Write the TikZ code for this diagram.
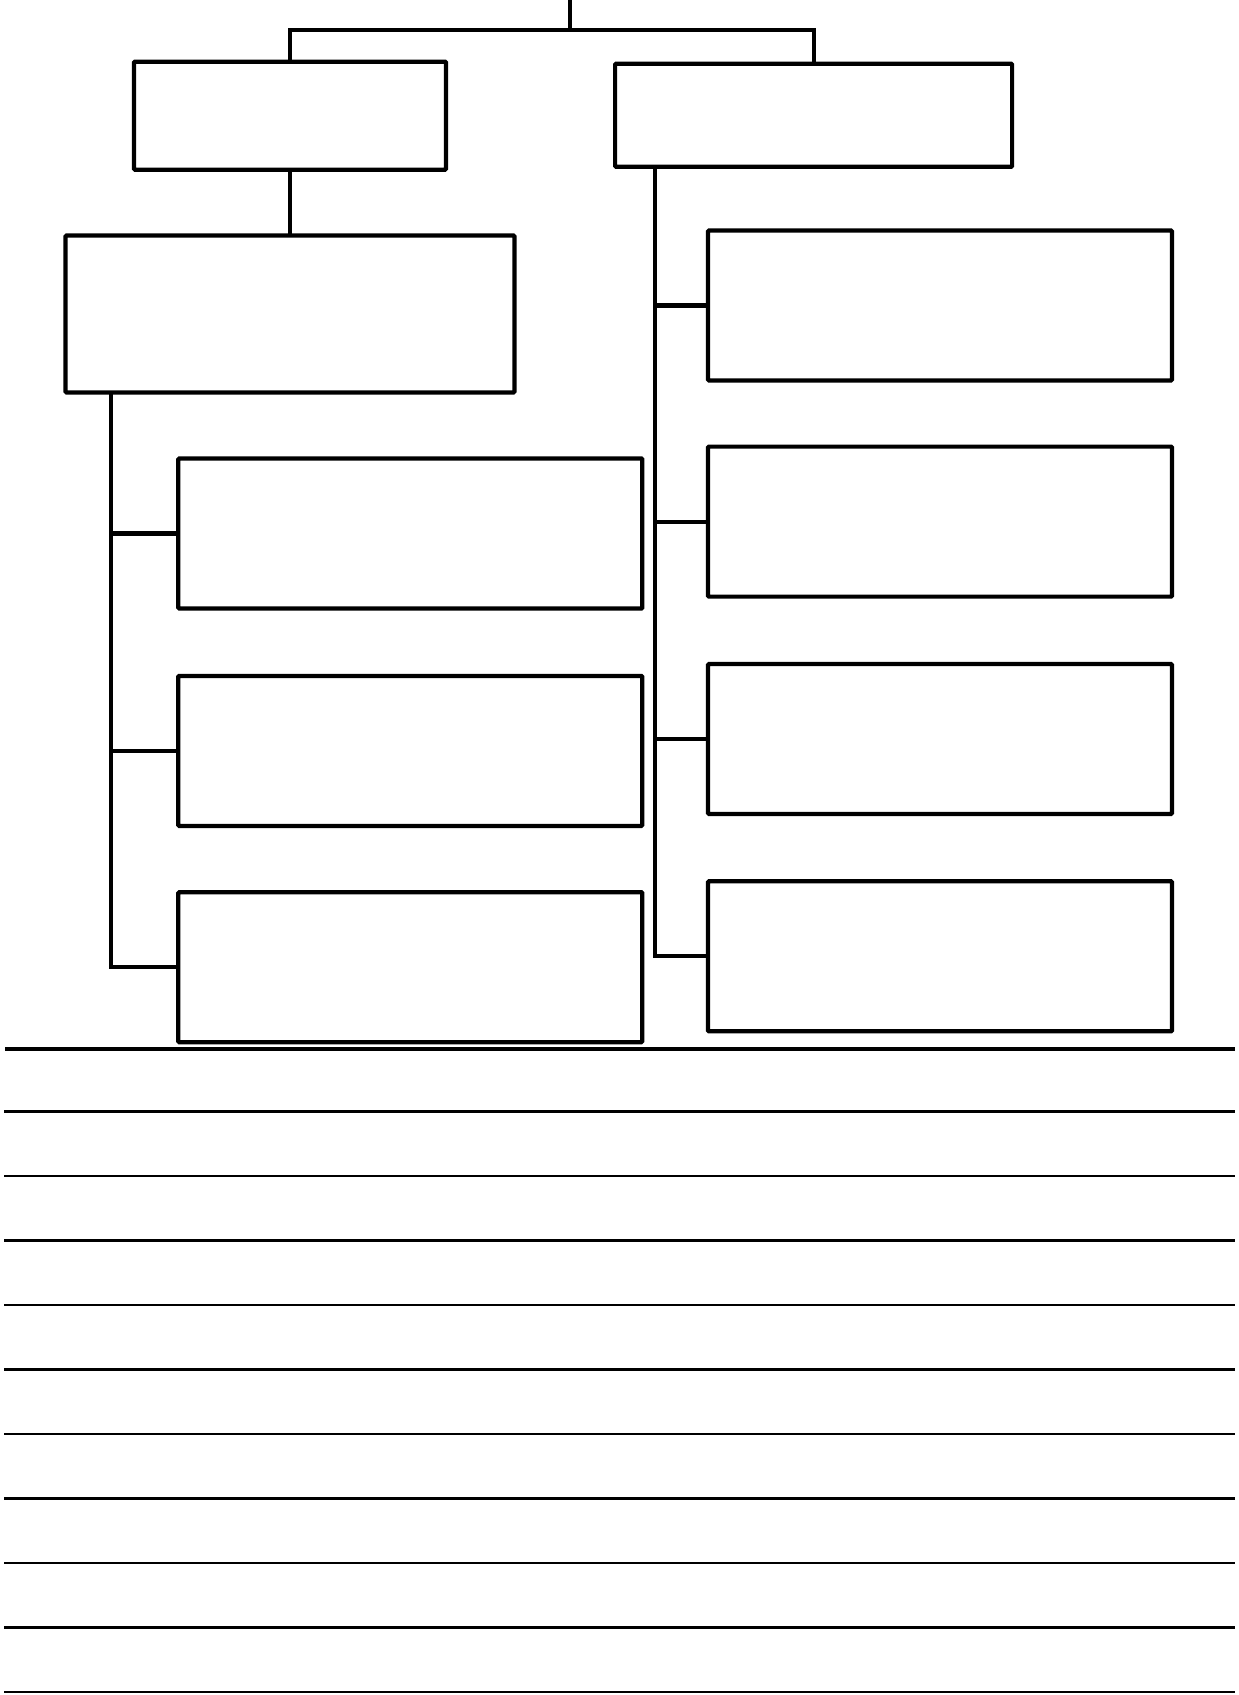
\documentclass[tikz,border=0pt]{standalone}
\tikzset{
    box/.style={draw, line width=4.2pt, inner sep=0pt, outer sep=0pt, rounded corners=1pt},
    link/.style={line width=4.2pt},
    rule/.style={line width=2.4pt}
}
\begin{document}
\begin{tikzpicture}[x=1pt, y=-1pt]
    \useasboundingbox (0,0) rectangle (1239,1695);

    % Верхний уровень
    \node[box, minimum width=312pt, minimum height=108pt] (a1) at (290,115.7) {};
    \node[box, minimum width=397pt, minimum height=103pt] (b1) at (813.6,115.2) {};
    % Второй уровень слева
    \node[box, minimum width=449pt, minimum height=157pt] (a2) at (290,314) {};

    % Левые блоки
    \node[box, minimum width=464pt, minimum height=150pt] (l1) at (410.3,533.5) {};
    \node[box, minimum width=464pt, minimum height=150pt] (l2) at (410.3,750.9) {};
    \node[box, minimum width=464pt, minimum height=150pt] (l3) at (410.3,967.2) {};
    % Правые блоки
    \node[box, minimum width=464pt, minimum height=150pt] (r1) at (940,305.5) {};
    \node[box, minimum width=464pt, minimum height=150pt] (r2) at (940,521.6) {};
    \node[box, minimum width=464pt, minimum height=150pt] (r3) at (940,739) {};
    \node[box, minimum width=464pt, minimum height=150pt] (r4) at (940,956.3) {};

    % Корень и развилка
    \coordinate (root) at (570,0);
    \coordinate (fork) at (570,30);
    \draw[link] (root) -- (fork);
    \draw[link] (fork) -| (a1.north);
    \draw[link] (fork) -| (b1.north);
    \draw[link] (a1) -- (a2);

    % Левая шина
    \coordinate (lsp) at ([xshift=45.4pt]a2.south west);
    \draw[link] (lsp) |- (l3.west);
    \draw[link] (lsp |- l1.west) -- (l1.west);
    \draw[link] (lsp |- l2.west) -- (l2.west);

    % Правая шина
    \coordinate (rsp) at ([xshift=40pt]b1.south west);
    \draw[link] (rsp) |- (r4.west);
    \draw[link] (rsp |- r1.west) -- (r1.west);
    \draw[link] (rsp |- r2.west) -- (r2.west);
    \draw[link] (rsp |- r3.west) -- (r3.west);

    % Разделитель
    \draw[line width=4pt] (5,1048.7) -- (1235,1048.7);

    % Линейки
    \draw[rule] (4,1111.5) -- (1235,1111.5);
    \draw[rule] (4,1176) -- (1235,1176);
    \draw[rule] (4,1240.5) -- (1235,1240.5);
    \draw[rule] (4,1305) -- (1235,1305);
    \draw[rule] (4,1369.5) -- (1235,1369.5);
    \draw[rule] (4,1434) -- (1235,1434);
    \draw[rule] (4,1498.5) -- (1235,1498.5);
    \draw[rule] (4,1563) -- (1235,1563);
    \draw[rule] (4,1627.5) -- (1235,1627.5);
    \draw[rule] (4,1692) -- (1235,1692);
\end{tikzpicture}
\end{document}
